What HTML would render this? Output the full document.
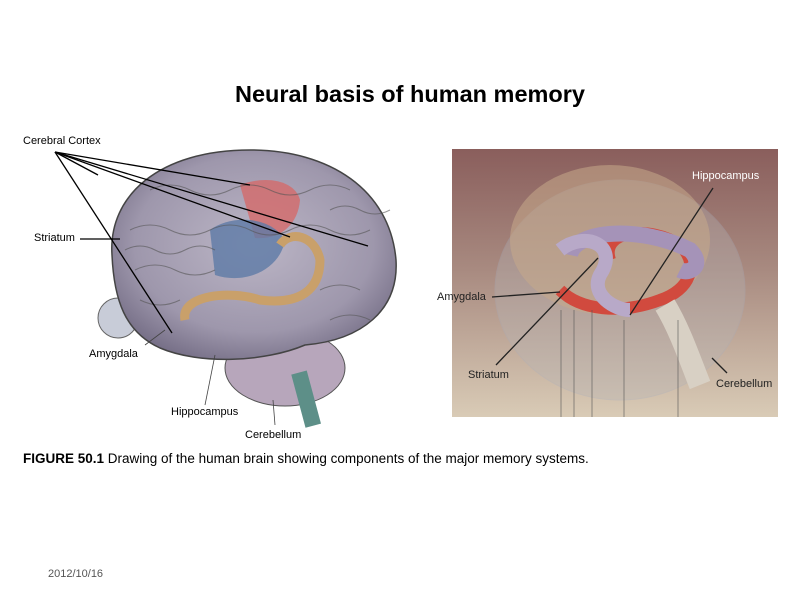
<!DOCTYPE html>
<html><head><meta charset="utf-8"><style>
body{margin:0;width:801px;height:600px;background:#fff;position:relative;overflow:hidden;font-family:"Liberation Sans",sans-serif}
.t{position:absolute}
</style></head><body>
<div class="t" style="left:0;width:820px;top:81px;text-align:center;font-size:23.5px;font-weight:bold;color:#000">Neural basis of human memory</div>

<svg width="801" height="600" style="position:absolute;left:0;top:0">
<defs>
<radialGradient id="br" cx="50%" cy="45%" r="60%"><stop offset="0" stop-color="#bcb6c6"/><stop offset="0.7" stop-color="#9e97ac"/><stop offset="1" stop-color="#756e86"/></radialGradient>
<linearGradient id="bg" x1="0" y1="0" x2="0" y2="1"><stop offset="0" stop-color="#8a5e5c"/><stop offset="0.45" stop-color="#a88a80"/><stop offset="1" stop-color="#d9cbb6"/></linearGradient>
</defs>
<ellipse cx="118" cy="318" rx="20" ry="20" fill="#c8ccd8" stroke="#666"/>
<ellipse cx="285" cy="368" rx="60" ry="38" fill="#b7a6bb" stroke="#555"/>
<rect x="297" y="372" width="16" height="55" fill="#5d8f88" transform="rotate(-15 304 395)"/>
<path d="M112,255 C108,195 160,150 250,150 C330,150 390,190 396,260 C399,310 362,340 305,345 C265,362 200,365 160,348 C125,332 114,300 112,255Z" fill="url(#br)" stroke="#444" stroke-width="1.5"/>
<path d="M240,185 C265,175 295,180 300,200 C298,225 280,240 255,238 Z" fill="#d56a6a" opacity="0.8"/>
<path d="M210,230 C230,215 270,215 285,240 C280,270 245,285 215,275 Z" fill="#5e7aa6" opacity="0.8"/>
<path d="M185,320 C180,295 230,290 260,300 C300,305 320,290 320,260 C315,235 290,230 280,245" fill="none" stroke="#c9a06a" stroke-width="9"/>
<g stroke="#555" stroke-width="1" fill="none" opacity="0.6">
<path d="M130,230 q20,-10 40,0 t40,0 t40,0 t40,0 t40,0 t40,0"/>
<path d="M135,270 q20,-10 40,0 t40,0"/><path d="M320,290 q20,-10 40,0"/>
<path d="M150,190 q20,-10 40,0 t40,0 t40,0 t40,0 t40,0"/>
<path d="M140,300 q20,10 40,0"/><path d="M330,320 q20,-10 40,0"/>
<path d="M125,250 q15,-8 30,0 t30,0 t30,0"/><path d="M330,210 q15,-8 30,0 t30,0"/>
</g>
<g stroke="#000" stroke-width="1.3">
<line x1="55" y1="152" x2="368" y2="246"/><line x1="55" y1="152" x2="290" y2="237"/>
<line x1="55" y1="152" x2="250" y2="185"/><line x1="55" y1="152" x2="172" y2="333"/>
<line x1="55" y1="152" x2="98" y2="175"/>
<line x1="80" y1="239" x2="120" y2="239"/>
</g>
<g stroke="#444" stroke-width="0.8"><line x1="145" y1="345" x2="165" y2="330"/><line x1="205" y1="405" x2="215" y2="355"/><line x1="275" y1="425" x2="273" y2="400"/></g>
<rect x="452" y="149" width="326" height="268" fill="url(#bg)"/>
<ellipse cx="620" cy="290" rx="125" ry="110" fill="#b6b4b6" opacity="0.35" stroke="#a9aebc"/>
<ellipse cx="610" cy="240" rx="100" ry="75" fill="#c7a98a" opacity="0.55"/>
<path d="M610,260 C600,230 650,225 680,245 C700,265 690,290 660,300 C620,315 580,310 560,290" fill="none" stroke="#d14a3e" stroke-width="12"/>
<path d="M570,255 C575,230 640,225 690,250 C705,265 690,275 680,270" fill="none" stroke="#a593b8" stroke-width="16"/>
<path d="M560,250 C585,230 620,245 600,275 C590,295 615,310 630,310" fill="none" stroke="#b8a9c8" stroke-width="14"/>
<path d="M665,305 C680,330 690,360 700,385" stroke="#d8d0c4" stroke-width="22" fill="none"/>
<g stroke="#222" stroke-width="1.3">
<line x1="713" y1="188" x2="630" y2="315"/><line x1="598" y1="258" x2="496" y2="365"/>
<line x1="492" y1="297" x2="560" y2="292"/><line x1="712" y1="358" x2="727" y2="373"/>
</g>
<g stroke="#555" stroke-width="0.6"><line x1="561" y1="310" x2="561" y2="417"/><line x1="574" y1="310" x2="574" y2="417"/><line x1="592" y1="310" x2="592" y2="417"/><line x1="624" y1="320" x2="624" y2="417"/><line x1="678" y1="320" x2="678" y2="417"/></g>
</svg>

<div class="t" style="left:23px;top:135px;font-size:11px">Cerebral Cortex</div>
<div class="t" style="left:34px;top:232px;font-size:11px">Striatum</div>
<div class="t" style="left:89px;top:348px;font-size:11px">Amygdala</div>
<div class="t" style="left:171px;top:406px;font-size:11px">Hippocampus</div>
<div class="t" style="left:245px;top:429px;font-size:11px">Cerebellum</div>
<div class="t" style="left:692px;top:170px;font-size:11px;color:#fff">Hippocampus</div>
<div class="t" style="left:437px;top:291px;font-size:11px;color:#222">Amygdala</div>
<div class="t" style="left:468px;top:369px;font-size:11px;color:#222">Striatum</div>
<div class="t" style="left:716px;top:378px;font-size:11px;color:#222">Cerebellum</div>
<div class="t" style="left:23px;top:451px;font-size:13.5px"><b>FIGURE 50.1</b> Drawing of the human brain showing components of the major memory systems.</div>
<div class="t" style="left:48px;top:568px;font-size:11px;color:#555">2012/10/16</div>
</body></html>
